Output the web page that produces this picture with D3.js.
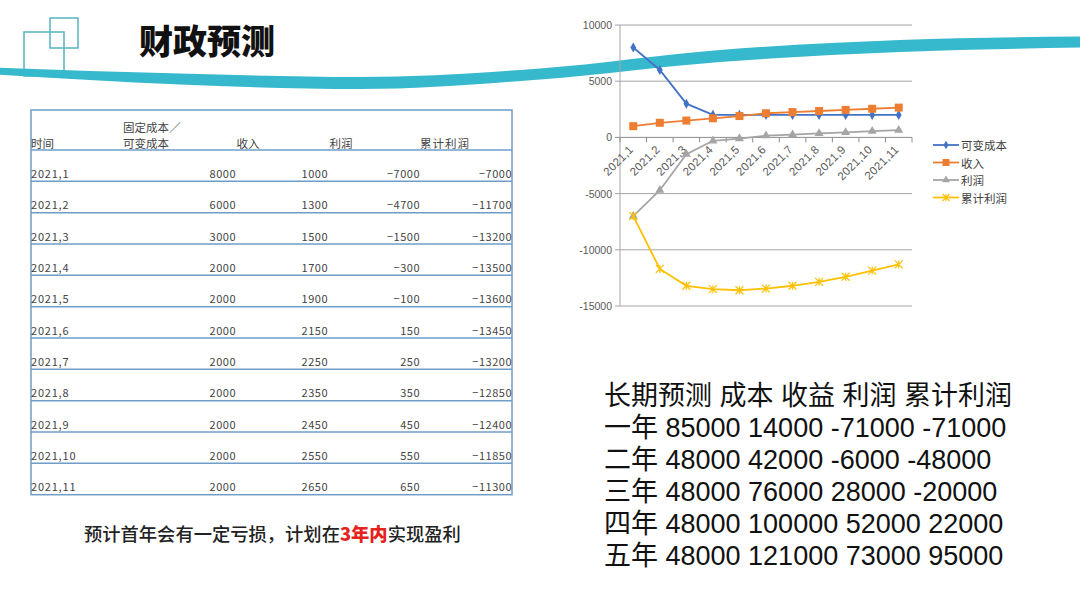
<!DOCTYPE html>
<html>
<head>
<meta charset="utf-8">
<script src="https://cdn.jsdelivr.net/npm/d3@7"></script>
<style>
  body { margin: 0; background: #fff; }
  svg { display: block; }
</style>
</head>
<body>
<div id="slide"></div>
<script>
// monthly forecast
var months = ["2021,1", "2021,2", "2021,3", "2021,4", "2021,5", "2021,6", "2021,7", "2021,8", "2021,9", "2021,10", "2021,11"];
var variableCost = [8000, 6000, 3000, 2000, 2000, 2000, 2000, 2000, 2000, 2000, 2000];
var revenue = [1000, 1300, 1500, 1700, 1900, 2150, 2250, 2350, 2450, 2550, 2650];
var profit = [-7000, -4700, -1500, -300, -100, 150, 250, 350, 450, 550, 650];
var cumProfit = [-7000, -11700, -13200, -13500, -13600, -13450, -13200, -12850, -12400, -11850, -11300];
var seriesNames = ["可变成本", "收入", "利润", "累计利润"];
var yTicks = [10000, 5000, 0, -5000, -10000, -15000];

// long term forecast
var ltHeader = ["长期预测", "成本", "收益", "利润", "累计利润"];
var ltYears = ["一年", "二年", "三年", "四年", "五年"];
var ltCost = [85000, 48000, 48000, 48000, 48000];
var ltRevenue = [14000, 42000, 76000, 100000, 121000];
var ltProfit = [-71000, -6000, 28000, 52000, 73000];
var ltCum = [-71000, -48000, -20000, 22000, 95000];

var width = 1080;
var height = 606;
var cjk = "'Noto Sans CJK SC', 'Noto Sans', sans-serif";
var latin = "'Liberation Sans', Arial, 'Noto Sans CJK SC', sans-serif";

var svg = d3.select("#slide")
  .append("svg")
    .attr("width", width)
    .attr("height", height);

// ---- header decoration ----
var deco = svg.append("g");
deco.append("rect")
  .attr("x", 50).attr("y", 18).attr("width", 28).attr("height", 30)
  .attr("fill", "none").attr("stroke", "#58b4c0").attr("stroke-width", 1.5);
deco.append("rect")
  .attr("x", 24).attr("y", 32).attr("width", 40).attr("height", 44)
  .attr("fill", "none").attr("stroke", "#58b4c0").attr("stroke-width", 1.5);

// swoosh band
var swoosh = [
  {x: -5, c: 71, w: 7}, {x: 180, c: 79, w: 11}, {x: 360, c: 83, w: 12},
  {x: 540, c: 74, w: 11}, {x: 720, c: 56, w: 12}, {x: 900, c: 46, w: 12}, {x: 1085, c: 42, w: 11}];
deco.append("path")
  .datum(swoosh)
  .attr("fill", "#36b9cd")
  .attr("d", d3.area()
    .curve(d3.curveMonotoneX)
    .x(d => d.x)
    .y0(d => d.c - d.w / 2)
    .y1(d => d.c + d.w / 2));

svg.append("text")
  .attr("x", 139).attr("y", 39)
  .attr("dominant-baseline", "central")
  .style("font-family", cjk).style("font-weight", 900)
  .style("font-size", "34px").style("fill", "#111")
  .text("财政预测");

// ---- table ----
var tX = 31, tR = 512, tTop = 110, tHead = 150, tBottom = 494.7;
var table = svg.append("g");
var rowY = d3.scaleBand().domain(months).range([tHead, tBottom]);
var colX = d3.scalePoint().domain([1, 2, 3, 4]).range([236, 512]);
var lineColor = "#6f9dc8";
var txtColor = "#444";

table.append("rect")
  .attr("x", tX).attr("y", tTop).attr("width", tR - tX).attr("height", tBottom - tTop)
  .attr("fill", "none").attr("stroke", lineColor).attr("stroke-width", 1.5);
table.selectAll(".rowline")
  .data([tHead].concat(months.slice(0, -1).map(m => rowY(m) + rowY.bandwidth())))
  .enter().append("line")
    .attr("x1", tX).attr("x2", tR)
    .attr("y1", d => d).attr("y2", d => d)
    .attr("stroke", lineColor).attr("stroke-width", 1.5);

var headFont = function(sel){
  sel.style("font-family", cjk).style("font-size", "11.5px").style("fill", txtColor);}
table.append("text").attr("x", 31).attr("y", 148).call(headFont).text("时间");
table.append("text").attr("x", 123).attr("y", 132).call(headFont).text("固定成本／");
table.append("text").attr("x", 123).attr("y", 148).call(headFont).text("可变成本");
table.append("text").attr("x", 248).attr("y", 148).attr("text-anchor", "middle").call(headFont).text("收入");
table.append("text").attr("x", 341).attr("y", 148).attr("text-anchor", "middle").call(headFont).text("利润");
table.append("text").attr("x", 445).attr("y", 148).attr("text-anchor", "middle")
  .style("letter-spacing", "1px").call(headFont).text("累计利润");

var fmt = v => (v < 0 ? "−" + Math.abs(v) : String(v));
var rows = table.selectAll(".row")
  .data(months.map((m, i) => ({m: m, vals: [variableCost[i], revenue[i], profit[i], cumProfit[i]]})))
  .enter().append("g")
    .attr("transform", d => "translate(0," + (rowY(d.m) + rowY.bandwidth() - 3.5) + ")");
rows.append("text")
  .attr("x", 31)
  .style("font-family", cjk).style("font-size", "11px").style("fill", txtColor)
  .style("letter-spacing", "0.8px")
  .text(d => d.m);
rows.selectAll(".val")
  .data(d => d.vals)
  .enter().append("text")
    .attr("x", (d, i) => colX(i + 1))
    .attr("text-anchor", "end")
    .style("font-family", cjk).style("font-size", "11px").style("fill", txtColor)
    .style("letter-spacing", "0.5px")
    .text(d => fmt(d));

// note under table
var note = svg.append("text")
  .attr("x", 84).attr("y", 541)
  .style("font-family", cjk).style("font-size", "18.3px").style("fill", "#222")
  .style("font-weight", 500);
note.append("tspan").text("预计首年会有一定亏损，计划在");
note.append("tspan").style("fill", "#e3231c").style("font-weight", 900).text("3年内");
note.append("tspan").text("实现盈利");

// ---- line chart ----
var chart = svg.append("g");
var x = d3.scaleBand().domain(months).range([620, 912]);
var y = d3.scaleLinear().domain([-15000, 10000]).range([306, 25]);
var cx = d => x(d) + x.bandwidth() / 2;

chart.selectAll(".grid")
  .data(yTicks)
  .enter().append("line")
    .attr("x1", 615).attr("x2", 912)
    .attr("y1", d => y(d)).attr("y2", d => y(d))
    .attr("stroke", d => d === 0 ? "#8c8c8c" : "#a6a6a6").attr("stroke-width", 1);
chart.append("line")
  .attr("x1", 620).attr("x2", 620).attr("y1", y(10000)).attr("y2", y(-15000))
  .attr("stroke", "#a6a6a6");
chart.selectAll(".ylab")
  .data(yTicks)
  .enter().append("text")
    .attr("x", 612).attr("y", d => y(d))
    .attr("text-anchor", "end").attr("dominant-baseline", "central")
    .style("font-family", latin).style("font-size", "10.5px").style("fill", "#595959")
    .text(d => d);

// category ticks on the zero line
chart.selectAll(".xtick")
  .data(months.map(m => x(m)).concat([912]))
  .enter().append("line")
    .attr("x1", d => d).attr("x2", d => d)
    .attr("y1", y(0)).attr("y2", y(0) + 5)
    .attr("stroke", "#8c8c8c");
chart.selectAll(".xlab")
  .data(months)
  .enter().append("text")
    .attr("transform", d => "translate(" + (cx(d) - 2) + "," + (y(0) + 10) + ") rotate(-45)")
    .attr("text-anchor", "end").attr("dominant-baseline", "central")
    .style("font-family", latin).style("font-size", "11.5px").style("fill", "#595959")
    .style("letter-spacing", "0.3px")
    .text(d => d);

var series = [
  {name: seriesNames[0], values: variableCost, color: "#4472c4", marker: "diamond"},
  {name: seriesNames[1], values: revenue, color: "#ed7d31", marker: "square"},
  {name: seriesNames[2], values: profit, color: "#a5a5a5", marker: "triangle"},
  {name: seriesNames[3], values: cumProfit, color: "#ffc000", marker: "x"}];

var line = d3.line()
  .x(d => cx(d.m))
  .y(d => y(d.v));

function markerPath(type, s){
  if (type === "diamond") return d3.symbol(d3.symbolDiamond, s * s * 0.6)();
  if (type === "square") return d3.symbol(d3.symbolSquare, s * s)();
  if (type === "triangle") return d3.symbol(d3.symbolTriangle, s * s * 0.55)();
  var h = s / 2;
  return "M" + (-h) + "," + (-h) + "L" + h + "," + h + "M" + (-h) + "," + h + "L" + h + "," + (-h) + "M0," + (-h) + "L0," + h;
}

series.forEach(function(s){
  var pts = s.values.map((v, i) => ({m: months[i], v: v}));
  var g = chart.append("g");
  g.append("path")
    .datum(pts)
    .attr("fill", "none")
    .attr("stroke", s.color).attr("stroke-width", 1.8)
    .attr("d", line);
  g.selectAll(".mk")
    .data(pts)
    .enter().append("path")
      .attr("transform", d => "translate(" + cx(d.m) + "," + y(d.v) + ")")
      .attr("d", markerPath(s.marker, s.marker === "diamond" ? 7 : 8))
      .attr("fill", s.marker === "x" ? "none" : s.color)
      .attr("stroke", s.color).attr("stroke-width", s.marker === "x" ? 1.2 : 0);
});

// legend
var legend = chart.selectAll(".legend")
  .data(series)
  .enter().append("g")
    .attr("transform", (d, i) => "translate(933," + (145 + i * 17.5) + ")");
legend.append("line")
  .attr("x1", 0).attr("x2", 26)
  .attr("stroke", d => d.color).attr("stroke-width", 1.8);
legend.append("path")
  .attr("transform", "translate(13,0)")
  .attr("d", d => markerPath(d.marker, d.marker === "diamond" ? 6 : 7))
  .attr("fill", d => d.marker === "x" ? "none" : d.color)
  .attr("stroke", d => d.color).attr("stroke-width", d => d.marker === "x" ? 1.1 : 0);
legend.append("text")
  .attr("x", 28).attr("dominant-baseline", "central")
  .style("font-family", cjk).style("font-size", "11.5px").style("fill", "#404040")
  .text(d => d.name);

// ---- long term forecast text ----
var ltRows = [ltHeader.join(" ")].concat(ltYears.map((yr, i) =>
  [yr, ltCost[i], ltRevenue[i], ltProfit[i], ltCum[i]].join(" ")));
svg.selectAll(".lt")
  .data(ltRows)
  .enter().append("text")
    .attr("x", 604)
    .attr("y", (d, i) => 396 + i * 32)
    .attr("dominant-baseline", "central")
    .style("font-family", latin).style("font-size", "27px").style("fill", "#111")
    .text(d => d);
</script>
</body>
</html>
